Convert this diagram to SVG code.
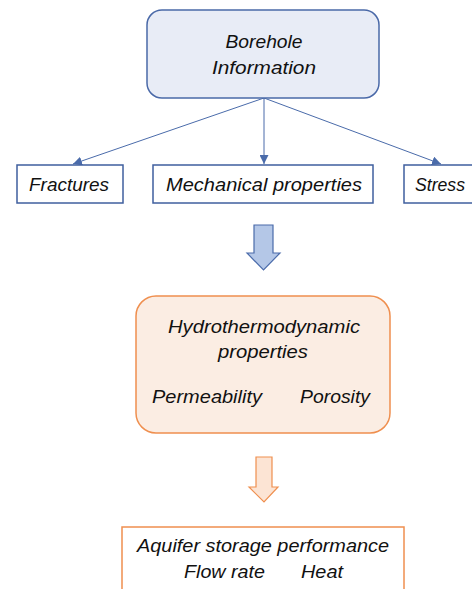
<svg xmlns="http://www.w3.org/2000/svg" width="472" height="589" viewBox="0 0 472 589">
<style>
text{font-family:"Liberation Sans",Arial,sans-serif;font-style:italic;font-size:19px;fill:#111}
.blue{fill:#E8ECF6;stroke:#4A69A8;stroke-width:1.5}
.wbox{fill:#fff;stroke:#3F5F9E;stroke-width:1.5}
.orange{fill:#FBEDE3;stroke:#EF8F4F;stroke-width:1.5}
.obox{fill:#fff;stroke:#EF8F4F;stroke-width:1.5}
.conn{stroke:#4A6BAA;stroke-width:1;fill:none}
</style>
<defs>
<marker id="ah" viewBox="0 0 10 10" refX="10" refY="5" markerWidth="9" markerHeight="9" markerUnits="userSpaceOnUse" orient="auto">
<path d="M0,0 L10,5 L0,10 z" fill="#4A6BAA"/>
</marker>
</defs>
<g id="connectors">
<line class="conn" x1="264" y1="98" x2="73" y2="164" marker-end="url(#ah)"/>
<line class="conn" x1="264" y1="98" x2="264" y2="164" marker-end="url(#ah)"/>
<line class="conn" x1="264" y1="98" x2="441" y2="164" marker-end="url(#ah)"/>
<path id="arrow1" d="M254,225 H273 V253 H280 L263.5,270 L247,253 H254 Z" fill="#B4C7E7" stroke="#4A6BAA" stroke-width="1.2"/>
<path id="arrow2" d="M256,457 H272 V487 H278 L264,502 L249,487 H256 Z" fill="#FCE4D4" stroke="#EF8F4F" stroke-width="1.2"/>
</g>
<g id="borehole">
<rect class="blue" x="147" y="10" width="232" height="88" rx="15"/>
<text x="264" y="48" text-anchor="middle" textLength="77" lengthAdjust="spacingAndGlyphs">Borehole</text>
<text x="264" y="74" text-anchor="middle" textLength="104" lengthAdjust="spacingAndGlyphs">Information</text>
</g>
<g id="fractures">
<rect class="wbox" x="17" y="165" width="106" height="38"/>
<text x="29" y="191" textLength="80" lengthAdjust="spacingAndGlyphs">Fractures</text>
</g>
<g id="mechanical">
<rect class="wbox" x="153" y="165" width="220" height="38"/>
<text x="166" y="191" textLength="196" lengthAdjust="spacingAndGlyphs">Mechanical properties</text>
</g>
<g id="stress">
<rect class="wbox" x="404" y="165" width="80" height="38"/>
<text x="415" y="191" textLength="50" lengthAdjust="spacingAndGlyphs">Stress</text>
</g>
<g id="hydro">
<rect class="orange" x="136" y="296" width="254" height="137" rx="20"/>
<text x="264" y="333" text-anchor="middle" textLength="192" lengthAdjust="spacingAndGlyphs">Hydrothermodynamic</text>
<text x="263" y="358" text-anchor="middle" textLength="90" lengthAdjust="spacingAndGlyphs">properties</text>
<text x="152" y="403" textLength="110" lengthAdjust="spacingAndGlyphs">Permeability</text>
<text x="300" y="403" textLength="70" lengthAdjust="spacingAndGlyphs">Porosity</text>
</g>
<g id="aquifer">
<rect class="obox" x="122" y="527" width="282" height="80"/>
<text x="137" y="552" textLength="252" lengthAdjust="spacingAndGlyphs">Aquifer storage performance</text>
<text x="184" y="578" textLength="81" lengthAdjust="spacingAndGlyphs">Flow rate</text>
<text x="301" y="578" textLength="42" lengthAdjust="spacingAndGlyphs">Heat</text>
</g>
</svg>
